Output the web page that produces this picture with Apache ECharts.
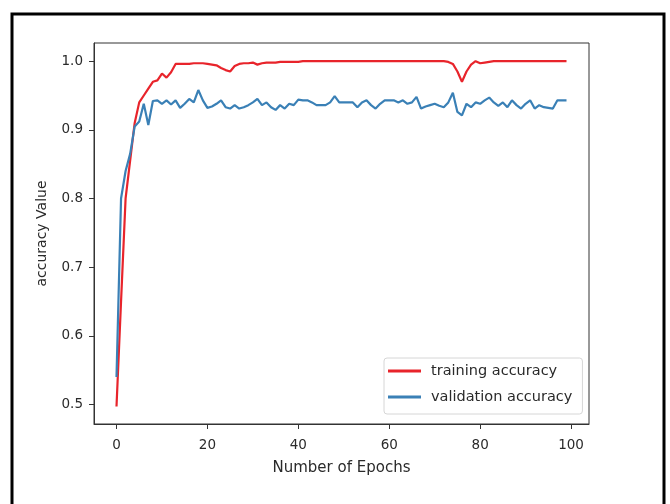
<!DOCTYPE html>
<html>
<head>
<meta charset="utf-8">
<script src="https://cdn.jsdelivr.net/npm/echarts@6/dist/echarts.min.js"></script>
<style>
html,body{margin:0;padding:0;background:#fff;}
#c{width:670px;height:504px;}
</style>
</head>
<body>
<div id="c"></div>
<script>
var epochs = [];
for (var i = 0; i < 100; i++) epochs.push(i);

var trainingAccuracy = [
  0.497, 0.65, 0.80, 0.855, 0.91, 0.94, 0.95, 0.96, 0.97, 0.972,
  0.982, 0.976, 0.984, 0.996, 0.996, 0.996, 0.996, 0.997, 0.997, 0.997,
  0.996, 0.995, 0.994, 0.990, 0.987, 0.985, 0.993, 0.996, 0.997, 0.997,
  0.998, 0.995, 0.997, 0.998, 0.998, 0.998, 0.999, 0.999, 0.999, 0.999,
  0.999, 1.0, 1.0, 1.0, 1.0, 1.0, 1.0, 1.0, 1.0, 1.0,
  1.0, 1.0, 1.0, 1.0, 1.0, 1.0, 1.0, 1.0, 1.0, 1.0,
  1.0, 1.0, 1.0, 1.0, 1.0, 1.0, 1.0, 1.0, 1.0, 1.0,
  1.0, 1.0, 1.0, 0.999, 0.996, 0.985, 0.970, 0.985, 0.995, 1.0,
  0.997, 0.998, 0.999, 1.0, 1.0, 1.0, 1.0, 1.0, 1.0, 1.0,
  1.0, 1.0, 1.0, 1.0, 1.0, 1.0, 1.0, 1.0, 1.0, 1.0
];

var validationAccuracy = [
  0.54, 0.80, 0.84, 0.865, 0.905, 0.912, 0.938, 0.907, 0.942, 0.943,
  0.938, 0.943, 0.937, 0.943, 0.932, 0.938, 0.945, 0.940, 0.958, 0.943,
  0.932, 0.934, 0.938, 0.943, 0.933, 0.931, 0.936, 0.931, 0.933, 0.936,
  0.940, 0.945, 0.936, 0.940, 0.933, 0.929, 0.936, 0.931, 0.938, 0.936,
  0.944, 0.943, 0.943, 0.940, 0.936, 0.936, 0.936, 0.940, 0.949, 0.940,
  0.940, 0.940, 0.940, 0.933, 0.940, 0.943, 0.936, 0.931, 0.938, 0.943,
  0.943, 0.943, 0.940, 0.943, 0.938, 0.940, 0.948, 0.931, 0.934, 0.936,
  0.938, 0.935, 0.933, 0.940, 0.954, 0.926, 0.921, 0.938, 0.933, 0.940,
  0.938, 0.943, 0.947, 0.940, 0.935, 0.940, 0.933, 0.943, 0.936, 0.931,
  0.938, 0.943, 0.931, 0.936, 0.933, 0.932, 0.931, 0.943, 0.943, 0.943
];

var xTicks = [0, 20, 40, 60, 80, 100];
var yTicks = [0.5, 0.6, 0.7, 0.8, 0.9, 1.0];

var seriesNames = ['training accuracy', 'validation accuracy'];
var xLabel = 'Number of Epochs';
var yLabel = 'accuracy Value';

function pairs(vals) {
  return epochs.map(function (e, i) { return [e, vals[i]]; });
}

var FONT = "'DejaVu Sans', sans-serif";
var chart = echarts.init(document.getElementById('c'), null, {renderer: 'canvas'});
chart.setOption({
  animation: false,
  backgroundColor: '#ffffff',
  graphic: [{
    type: 'rect',
    shape: {x: 12, y: 14, width: 652, height: 520},
    style: {fill: 'none', stroke: '#000', lineWidth: 3},
    silent: true
  }],
  grid: {
    left: 94, top: 43, width: 495, height: 381,
    show: true, borderColor: '#333', borderWidth: 1, backgroundColor: 'transparent'
  },
  legend: {
    orient: 'vertical',
    left: 384, top: 358,
    padding: [5, 10, 9, 4],
    itemGap: 10,
    itemWidth: 33, itemHeight: 3,
    icon: 'rect',
    borderColor: '#d6d6d6', borderWidth: 1, borderRadius: 3,
    backgroundColor: 'rgba(255,255,255,0.8)',
    textStyle: {fontFamily: FONT, fontSize: 14.5, color: '#2a2a2a', padding: [0, 0, 0, 5], lineHeight: 16},
    data: seriesNames
  },
  xAxis: {
    type: 'value',
    min: -4.95, max: 103.95,
    name: xLabel, nameLocation: 'middle', nameGap: 37,
    nameTextStyle: {fontFamily: FONT, fontSize: 15, color: '#2a2a2a'},
    axisLine: {show: true, onZero: false, lineStyle: {color: '#333', width: 1}},
    axisTick: {show: true, length: 5, customValues: xTicks, lineStyle: {color: '#333'}},
    axisLabel: {customValues: xTicks, margin: 14, fontFamily: FONT, fontSize: 13.5, color: '#2a2a2a'},
    splitLine: {show: false}
  },
  yAxis: {
    type: 'value',
    min: 0.4715, max: 1.0265,
    name: yLabel, nameLocation: 'middle', nameGap: 45,
    nameTextStyle: {fontFamily: FONT, fontSize: 14, color: '#2a2a2a'},
    axisLine: {show: true, onZero: false, lineStyle: {color: '#333', width: 1}},
    axisTick: {show: true, length: 5, customValues: yTicks, lineStyle: {color: '#333'}},
    axisLabel: {customValues: yTicks, margin: 11, fontFamily: FONT, fontSize: 13.5, color: '#2a2a2a',
      formatter: function (v) { return v.toFixed(1); }},
    splitLine: {show: false}
  },
  series: [
    {
      name: seriesNames[0], type: 'line', data: pairs(trainingAccuracy),
      showSymbol: false, symbol: 'none',
      lineStyle: {color: '#e8242b', width: 2.2}, itemStyle: {color: '#e8242b'}
    },
    {
      name: seriesNames[1], type: 'line', data: pairs(validationAccuracy),
      showSymbol: false, symbol: 'none',
      lineStyle: {color: '#3a80b6', width: 2.2}, itemStyle: {color: '#3a80b6'}
    }
  ]
});
</script>
</body>
</html>
